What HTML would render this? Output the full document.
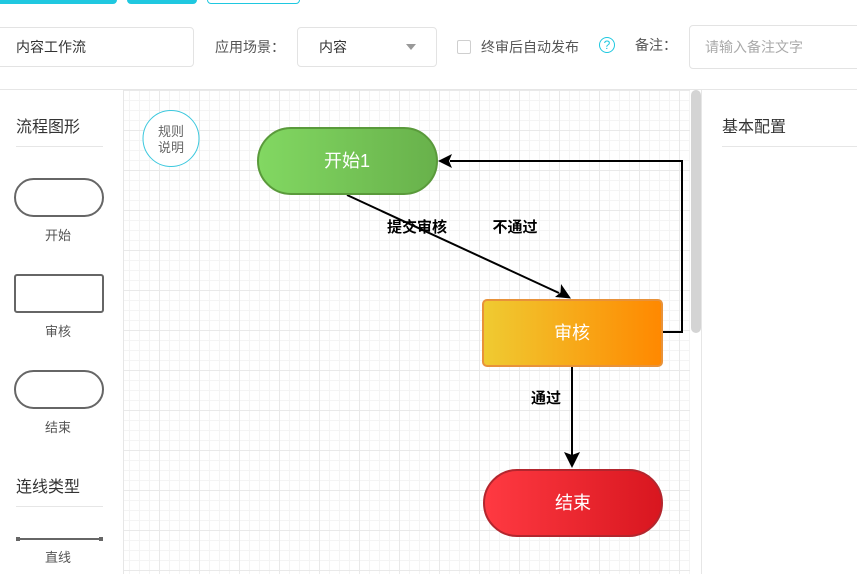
<!DOCTYPE html>
<html>
<head>
<meta charset="utf-8">
<style>
html,body{margin:0;padding:0;}
body{width:857px;height:574px;position:relative;overflow:hidden;background:#fff;font-family:"Liberation Sans","Noto Sans CJK SC",sans-serif;}
.abs{position:absolute;}
.btn{position:absolute;top:-6px;height:10px;border-radius:4px;}
.inp{position:absolute;border:1px solid #e3e3e3;border-radius:4px;box-sizing:border-box;background:#fff;}
.t{position:absolute;white-space:nowrap;line-height:1;}
</style>
</head>
<body>
<!-- top buttons -->
<div class="btn" style="left:-6px;width:123px;background:#1fc8e0;"></div>
<div class="btn" style="left:127px;width:70px;background:#1fc8e0;"></div>
<div class="btn" style="left:207px;width:93px;border:1px solid #1fc8e0;box-sizing:border-box;background:#fff;"></div>

<!-- form row -->
<div class="inp" style="left:-10px;top:27px;width:204px;height:40px;"></div>
<div class="t" style="left:16px;top:40px;font-size:14px;color:#333;">内容工作流</div>
<div class="t" style="left:215px;top:40px;font-size:14px;color:#555;">应用场景：</div>
<div class="inp" style="left:297px;top:27px;width:140px;height:40px;"></div>
<div class="t" style="left:319px;top:40px;font-size:14px;color:#333;">内容</div>
<div class="abs" style="left:406px;top:44px;width:0;height:0;border-left:5px solid transparent;border-right:5px solid transparent;border-top:6px solid #999;"></div>
<div class="abs" style="left:457px;top:40px;width:14px;height:14px;border:1px solid #cfcfcf;border-radius:2px;box-sizing:border-box;"></div>
<div class="t" style="left:481px;top:40px;font-size:14px;color:#555;">终审后自动发布</div>
<div class="abs" style="left:599px;top:37px;width:16px;height:16px;border:1px solid #1fc8e0;border-radius:50%;box-sizing:border-box;color:#1fc8e0;font-size:12px;line-height:14px;text-align:center;">?</div>
<div class="t" style="left:635px;top:38px;font-size:14px;color:#555;">备注：</div>
<div class="inp" style="left:689px;top:25px;width:190px;height:44px;"></div>
<div class="t" style="left:705px;top:40px;font-size:14px;color:#aaa;">请输入备注文字</div>

<!-- separator -->
<div class="abs" style="left:0;top:89px;width:857px;height:1px;background:#e6e6e6;"></div>

<!-- canvas grid -->
<div class="abs" style="left:124px;top:90px;width:566px;height:484px;
background-image:
linear-gradient(to right,#e9e9e9 1px,transparent 1px),
linear-gradient(to bottom,#e9e9e9 1px,transparent 1px),
linear-gradient(to right,#f4f4f4 1px,transparent 1px),
linear-gradient(to bottom,#f4f4f4 1px,transparent 1px);
background-size:40px 40px,40px 40px,10px 10px,10px 10px;
background-position:-5px 0,0 0,-5px 0,0 0;"></div>

<!-- left panel border -->
<div class="abs" style="left:123px;top:90px;width:1px;height:484px;background:#e6e6e6;"></div>
<!-- right panel border -->
<div class="abs" style="left:701px;top:90px;width:1px;height:484px;background:#e6e6e6;"></div>
<!-- scrollbar -->
<div class="abs" style="left:691px;top:90px;width:10px;height:243px;background:#d4d4d4;border-radius:5px;"></div>

<!-- left panel -->
<div class="t" style="left:16px;top:120px;font-size:16px;color:#333;">流程图形</div>
<div class="abs" style="left:16px;top:146px;width:87px;height:1px;background:#e6e6e6;"></div>
<div class="abs" style="left:14px;top:178px;width:90px;height:39px;border:2px solid #666;border-radius:20px;box-sizing:border-box;"></div>
<div class="t" style="left:45px;top:229px;font-size:13px;color:#555;">开始</div>
<div class="abs" style="left:14px;top:274px;width:90px;height:39px;border:2px solid #666;border-radius:3px;box-sizing:border-box;"></div>
<div class="t" style="left:45px;top:325px;font-size:13px;color:#555;">审核</div>
<div class="abs" style="left:14px;top:370px;width:90px;height:39px;border:2px solid #666;border-radius:20px;box-sizing:border-box;"></div>
<div class="t" style="left:45px;top:421px;font-size:13px;color:#555;">结束</div>
<div class="t" style="left:16px;top:480px;font-size:16px;color:#333;">连线类型</div>
<div class="abs" style="left:16px;top:506px;width:87px;height:1px;background:#e6e6e6;"></div>
<div class="abs" style="left:17px;top:538px;width:85px;height:2px;background:#666;"></div>
<div class="abs" style="left:16px;top:537px;width:4px;height:4px;background:#666;"></div>
<div class="abs" style="left:99px;top:537px;width:4px;height:4px;background:#666;"></div>
<div class="t" style="left:45px;top:551px;font-size:13px;color:#555;">直线</div>

<!-- right panel -->
<div class="t" style="left:722px;top:120px;font-size:16px;color:#333;">基本配置</div>
<div class="abs" style="left:722px;top:146px;width:135px;height:1px;background:#e6e6e6;"></div>

<!-- diagram -->
<svg class="abs" style="left:0;top:0;" width="857" height="574" viewBox="0 0 857 574">
<defs>
<linearGradient id="g1" x1="0" x2="1" y1="0" y2="0"><stop offset="0" stop-color="#82d862"/><stop offset="1" stop-color="#68b14b"/></linearGradient>
<linearGradient id="g2" x1="0" x2="1" y1="0" y2="0"><stop offset="0" stop-color="#efcb32"/><stop offset="1" stop-color="#ff8800"/></linearGradient>
<linearGradient id="g3" x1="0" x2="1" y1="0" y2="0"><stop offset="0" stop-color="#ff3a42"/><stop offset="1" stop-color="#d8161f"/></linearGradient>
</defs>
<!-- rule circle -->
<circle cx="171" cy="138.5" r="28" fill="#fff" stroke="#3cc8de" stroke-width="1"/>
<text x="171" y="136" font-size="13" fill="#666" text-anchor="middle" font-family="Liberation Sans, Noto Sans CJK SC, sans-serif">规则</text>
<text x="171" y="152" font-size="13" fill="#666" text-anchor="middle" font-family="Liberation Sans, Noto Sans CJK SC, sans-serif">说明</text>

<!-- connectors -->
<line x1="347" y1="195" x2="559" y2="293" stroke="#000" stroke-width="2"/>
<polygon points="571,298.5 555,297 560.5,292.5 561,284" fill="#000"/>
<polyline points="662,332 682,332 682,161 450,161" fill="none" stroke="#000" stroke-width="2"/>
<polygon points="438,161 452,154 449,161 452,168" fill="#000"/>
<line x1="572" y1="367" x2="572" y2="456" stroke="#000" stroke-width="2"/>
<polygon points="572,468 564,452 572,455 580,452" fill="#000"/>

<!-- nodes -->
<rect x="258" y="128" width="179" height="66" rx="33" fill="url(#g1)" stroke="#5a9a3b" stroke-width="2"/>
<text x="347" y="167" font-size="18" fill="#fff" text-anchor="middle" font-family="Liberation Sans, Noto Sans CJK SC, sans-serif">开始1</text>
<rect x="483" y="300" width="179" height="66" rx="4" fill="url(#g2)" stroke="#e8923a" stroke-width="2"/>
<text x="572" y="339" font-size="18" fill="#fff" text-anchor="middle" font-family="Liberation Sans, Noto Sans CJK SC, sans-serif">审核</text>
<rect x="484" y="470" width="178" height="66" rx="33" fill="url(#g3)" stroke="#b3262e" stroke-width="2"/>
<text x="573" y="509" font-size="18" fill="#fff" text-anchor="middle" font-family="Liberation Sans, Noto Sans CJK SC, sans-serif">结束</text>

<!-- labels -->
<text x="417" y="232" font-size="15" font-weight="bold" fill="#000" text-anchor="middle" font-family="Liberation Sans, Noto Sans CJK SC, sans-serif">提交审核</text>
<text x="515" y="232" font-size="15" font-weight="bold" fill="#000" text-anchor="middle" font-family="Liberation Sans, Noto Sans CJK SC, sans-serif">不通过</text>
<text x="546" y="403" font-size="15" font-weight="bold" fill="#000" text-anchor="middle" font-family="Liberation Sans, Noto Sans CJK SC, sans-serif">通过</text>
</svg>
</body>
</html>
